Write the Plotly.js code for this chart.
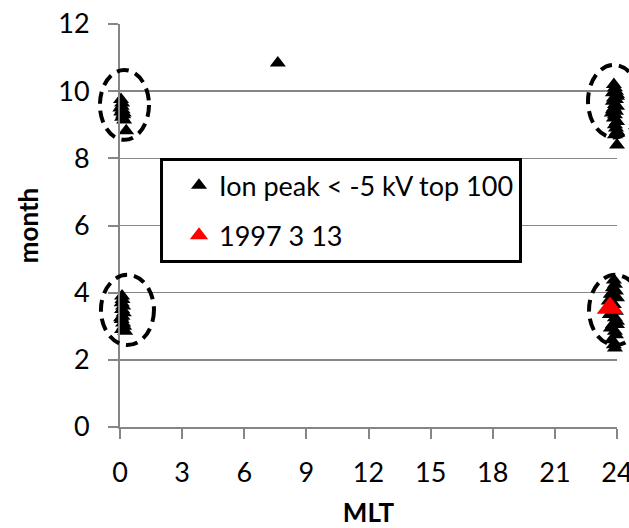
<!DOCTYPE html>
<html>
<head>
<meta charset="utf-8">
<script src="https://cdn.plot.ly/plotly-3.0.1.min.js"></script>
<style>html,body{margin:0;padding:0;background:#fff;}#chart{width:629px;height:528px;}</style>
</head>
<body>
<div id="chart"></div>
<script>
// Top-100 ion peak events: MLT (hours) and month
var ionMLT = [
  0.05, 0.10, 0.08, 0.12, 0.06, 0.15, 0.10, 0.20, 0.30, 0.02, 0.18,
  0.10, 0.12, 0.08, 0.15, 0.10, 0.18, 0.12, 0.08, 0.15, 0.20, 0.10, 0.25, 0.05,
  7.62,
  23.85, 23.90, 23.95, 23.80, 24.00, 23.85, 23.95, 23.80, 23.90, 24.00, 23.85, 23.80, 23.95, 23.90, 23.85, 24.00, 23.90, 23.95, 24.00, 23.90, 24.00, 24.00, 23.75,
  23.85, 23.90, 23.80, 23.95, 23.70, 24.00, 23.60, 23.85, 23.75, 23.95, 23.65, 23.90, 24.00, 23.80, 23.70, 23.90, 23.95, 23.75, 23.85, 23.90, 23.80, 24.00, 24.00
];
var ionMonth = [
  9.75, 9.65, 9.55, 9.45, 9.38, 9.30, 9.22, 9.14, 8.82, 9.50, 9.35,
  3.90, 3.80, 3.70, 3.60, 3.50, 3.40, 3.30, 3.20, 3.10, 3.00, 2.90, 2.85, 3.25,
  10.84,
  10.20, 10.10, 10.00, 9.95, 9.90, 9.80, 9.75, 9.70, 9.60, 9.55, 9.50, 9.45, 9.40, 9.30, 9.20, 9.10, 9.00, 8.90, 8.80, 8.70, 8.40, 9.85, 9.35,
  4.38, 4.25, 4.15, 4.05, 3.95, 3.85, 3.75, 3.65, 3.55, 3.45, 3.35, 3.25, 3.15, 3.05, 2.95, 2.85, 2.75, 2.60, 2.45, 2.35, 3.95, 3.05
];
// Event of 1997-03-13
var eventMLT = [23.66];
var eventMonth = [3.54];

var xTicks = [0, 3, 6, 9, 12, 15, 18, 21, 24];
var yTicks = [0, 2, 4, 6, 8, 10, 12];

var FONT = 'Lato, Calibri, Carlito, sans-serif';
var GRAY = '#868686';

var traces = [
  {
    x: ionMLT, y: ionMonth, type: 'scatter', mode: 'markers',
    name: 'Ion peak < -5 kV top 100', legendgroup: 'a',
    marker: {symbol: 'triangle-up', size: 14, color: '#000000'},
    cliponaxis: false
  },
  {
    x: eventMLT, y: eventMonth, type: 'scatter', mode: 'markers',
    name: '1997 3 13', legendgroup: 'b',
    marker: {symbol: 'triangle-up', size: 23, color: '#ff0000'},
    cliponaxis: false
  }
];

// dashed ellipses around the clusters (x given in MLT hours, converted to paper)
function ell(xa, xb, ya, yb) {
  return {
    type: 'circle', xref: 'paper', yref: 'y',
    x0: xa / 24, x1: xb / 24, y0: ya, y1: yb,
    line: {color: '#000000', width: 4, dash: '12px,7px'},
    layer: 'above'
  };
}

var layout = {
  width: 629, height: 528,
  margin: {l: 120, r: 12, t: 24, b: 101},
  paper_bgcolor: '#ffffff', plot_bgcolor: '#ffffff',
  font: {family: FONT, size: 27, color: '#000000'},
  showlegend: true,
  legend: {
    x: 0.0805, y: 0.667, xanchor: 'left', yanchor: 'top',
    bgcolor: '#ffffff', bordercolor: '#000000', borderwidth: 3,
    font: {family: FONT, size: 27, color: '#000000'},
    traceorder: 'grouped', tracegroupgap: 12, indentation: 16
  },
  xaxis: {
    range: [0, 24], tickvals: xTicks, ticktext: xTicks.map(String),
    showgrid: false, zeroline: false,
    showline: true, linecolor: GRAY, linewidth: 2,
    ticks: 'outside', ticklen: 10, tickcolor: GRAY, tickwidth: 2,
    tickfont: {family: FONT, size: 27, color: '#000000'},
    ticklabelstandoff: 11, ticklabeloverflow: 'allow',
    title: {text: '<b>MLT</b>', font: {family: FONT, size: 26, color: '#000000'}, standoff: 16}
  },
  yaxis: {
    range: [0, 12], tickvals: yTicks, ticktext: yTicks.map(String),
    showgrid: true, gridcolor: GRAY, gridwidth: 1.5, zeroline: false,
    showline: true, linecolor: GRAY, linewidth: 2,
    ticks: 'outside', ticklen: 10, tickcolor: GRAY, tickwidth: 2,
    tickfont: {family: FONT, size: 27, color: '#000000'},
    ticklabelstandoff: 13,
    title: {text: '<b>month</b>', font: {family: FONT, size: 26, color: '#000000'}, standoff: 12}
  },
  shapes: [
    ell(-0.97, 1.40, 8.55, 10.63),
    ell(-0.92, 1.64, 2.44, 4.53),
    ell(22.6, 25.1, 8.62, 10.78),
    ell(22.65, 25.2, 2.44, 4.53)
  ]
};

Plotly.newPlot('chart', traces, layout, {displayModeBar: false, staticPlot: true});
</script>
</body>
</html>
